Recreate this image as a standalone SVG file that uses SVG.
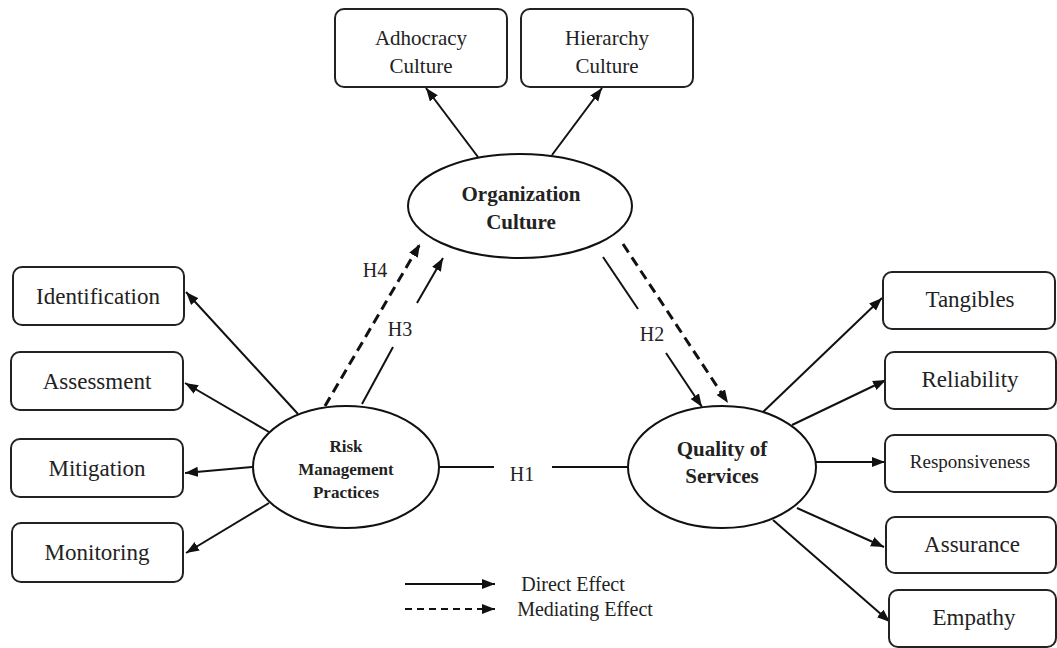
<svg xmlns="http://www.w3.org/2000/svg" width="1057" height="648" viewBox="0 0 1057 648">
<defs>
<marker id="ah" markerUnits="userSpaceOnUse" markerWidth="14" markerHeight="12" refX="13" refY="5" orient="auto">
<path d="M0,0 L13,5 L0,10 z" fill="#111"/>
</marker>
<style>
.box{fill:#fff;stroke:#222;stroke-width:2}
.ell{fill:#fff;stroke:#111;stroke-width:2}
.t{font-family:"Liberation Serif","Times New Roman",serif;fill:#222;text-anchor:middle}
.b{font-weight:bold}
.c{stroke:#111;stroke-width:2;fill:none}
.cd{stroke:#111;stroke-width:3;fill:none;stroke-dasharray:10,6}
</style>
</defs>
<rect width="1057" height="648" fill="#fff"/>
<g id="connectors">
<line class="c" x1="478" y1="157" x2="426" y2="88" marker-end="url(#ah)"/>
<line class="c" x1="552" y1="155" x2="602" y2="88" marker-end="url(#ah)"/>
<line class="c" x1="298" y1="414" x2="186" y2="292" marker-end="url(#ah)"/>
<line class="c" x1="269" y1="432" x2="185" y2="383" marker-end="url(#ah)"/>
<line class="c" x1="252" y1="467" x2="185" y2="473" marker-end="url(#ah)"/>
<line class="c" x1="269" y1="503" x2="186" y2="553" marker-end="url(#ah)"/>
<line class="cd" x1="325" y1="406" x2="420" y2="244" marker-end="url(#ah)"/>
<line class="c" x1="362" y1="404" x2="393" y2="347"/>
<line class="c" x1="417" y1="303" x2="443" y2="258" marker-end="url(#ah)"/>
<line class="c" x1="603" y1="257" x2="638" y2="309"/>
<line class="c" x1="666" y1="353" x2="702" y2="407" marker-end="url(#ah)"/>
<line class="cd" x1="623" y1="244" x2="728" y2="403" marker-end="url(#ah)"/>
<line class="c" x1="439" y1="467" x2="494" y2="467"/>
<line class="c" x1="552" y1="467" x2="628" y2="467"/>
<line class="c" x1="763" y1="412" x2="882" y2="298" marker-end="url(#ah)"/>
<line class="c" x1="792" y1="425" x2="886" y2="380" marker-end="url(#ah)"/>
<line class="c" x1="816" y1="462" x2="885" y2="462" marker-end="url(#ah)"/>
<line class="c" x1="797" y1="508" x2="884" y2="547" marker-end="url(#ah)"/>
<line class="c" x1="773" y1="520" x2="890" y2="622" marker-end="url(#ah)"/>
<text class="t" x="375" y="277" font-size="20">H4</text>
<text class="t" x="400" y="336" font-size="20">H3</text>
<text class="t" x="652" y="341" font-size="20">H2</text>
<text class="t" x="522" y="481" font-size="20">H1</text>
</g>
<g id="adhocracy">
<rect class="box" x="335" y="9" width="172" height="78" rx="9"/>
<text class="t" x="421" y="45" font-size="21">Adhocracy</text>
<text class="t" x="421" y="73" font-size="21">Culture</text>
</g>
<g id="hierarchy">
<rect class="box" x="521" y="9" width="172" height="78" rx="9"/>
<text class="t" x="607" y="45" font-size="21">Hierarchy</text>
<text class="t" x="607" y="73" font-size="21">Culture</text>
</g>
<g id="org-culture">
<ellipse class="ell" cx="520" cy="206" rx="112" ry="52"/>
<text class="t b" x="521" y="201" font-size="21">Organization</text>
<text class="t b" x="521" y="229" font-size="21">Culture</text>
</g>
<g id="risk">
<ellipse class="ell" cx="346" cy="467" rx="93" ry="61"/>
<text class="t b" x="346" y="452" font-size="17">Risk</text>
<text class="t b" x="346" y="475" font-size="17">Management</text>
<text class="t b" x="346" y="498" font-size="17">Practices</text>
</g>
<g id="quality">
<ellipse class="ell" cx="722" cy="467" rx="94" ry="61"/>
<text class="t b" x="722" y="456" font-size="21">Quality of</text>
<text class="t b" x="722" y="483" font-size="21">Services</text>
</g>
<g id="identification">
<rect class="box" x="13" y="267" width="171" height="58" rx="9"/>
<text class="t" x="98" y="304" font-size="23">Identification</text>
</g>
<g id="assessment">
<rect class="box" x="11" y="352" width="172" height="58" rx="9"/>
<text class="t" x="97" y="389" font-size="23">Assessment</text>
</g>
<g id="mitigation">
<rect class="box" x="11" y="439" width="172" height="58" rx="9"/>
<text class="t" x="97" y="476" font-size="23">Mitigation</text>
</g>
<g id="monitoring">
<rect class="box" x="12" y="523" width="171" height="59" rx="9"/>
<text class="t" x="97" y="560" font-size="23">Monitoring</text>
</g>
<g id="tangibles">
<rect class="box" x="883" y="272" width="172" height="57" rx="9"/>
<text class="t" x="970" y="307" font-size="23">Tangibles</text>
</g>
<g id="reliability">
<rect class="box" x="885" y="352" width="171" height="57" rx="9"/>
<text class="t" x="970" y="387" font-size="23">Reliability</text>
</g>
<g id="responsiveness">
<rect class="box" x="885" y="435" width="171" height="57" rx="9"/>
<text class="t" x="970" y="468" font-size="19">Responsiveness</text>
</g>
<g id="assurance">
<rect class="box" x="886" y="517" width="170" height="56" rx="9"/>
<text class="t" x="972" y="552" font-size="23">Assurance</text>
</g>
<g id="empathy">
<rect class="box" x="889" y="590" width="167" height="57" rx="9"/>
<text class="t" x="974" y="625" font-size="23">Empathy</text>
</g>
<g id="legend">
<line class="c" x1="405" y1="584" x2="495" y2="584" marker-end="url(#ah)"/>
<line class="c" x1="405" y1="609" x2="495" y2="609" stroke-dasharray="7,5" marker-end="url(#ah)"/>
<text class="t" x="573" y="591" font-size="20">Direct Effect</text>
<text class="t" x="585" y="616" font-size="20">Mediating Effect</text>
</g>
</svg>
